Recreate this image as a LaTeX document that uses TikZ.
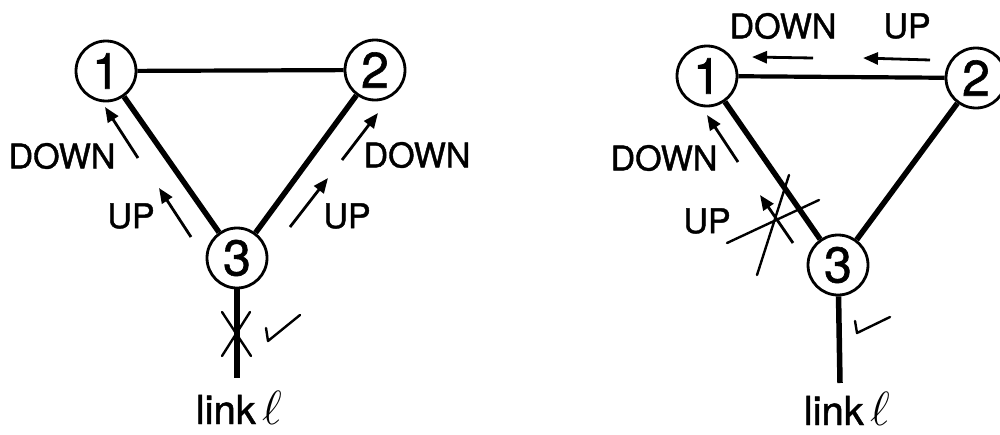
\RequirePackage{fix-cm}
\documentclass[tikz,border=0pt]{standalone}
\usepackage{fontspec}
\setmainfont{TeX Gyre Heros}
\newfontfamily\heavysans{TeX Gyre Heros}[FakeBold=1.2]
\usetikzlibrary{arrows.meta}
\begin{document}
\begin{tikzpicture}[x=1pt,y=-1pt,
  station/.style={circle,draw,line width=2.8pt,minimum size=60pt,inner sep=0pt,
    font=\heavysans\fontsize{50}{56}\selectfont},
  trunk/.style={line width=5.5pt},
  toplink/.style={line width=4.2pt},
  msg/.style={line width=2.8pt,-{Triangle[length=15pt,width=12pt]}},
  thin/.style={line width=2.4pt,line cap=round},
  lbl/.style={font=\heavysans\fontsize{34}{40}\selectfont,inner sep=0pt},
  linklbl/.style={font=\heavysans\fontsize{40}{46}\selectfont,inner sep=0pt,anchor=base}]
\useasboundingbox (0,0) rectangle (1000,434);
\clip (0,0) rectangle (1000,434);

% ---- left network ----
\node[station] (a1) at (106,71) {1};
\node[station] (a2) at (375,70) {2};
\node[station] (a3) at (237,258) {3};
\coordinate (aend) at (237,378);
\draw[toplink] (a1) -- (a2);
\draw[trunk] (a1) -- (a3);
\draw[trunk] (a2) -- (a3);
\draw[trunk] (a3) -- (aend);
% cut mark on the access link
\coordinate (ax1) at (222,312); \coordinate (ax2) at (251,356);
\coordinate (ax3) at (250,312); \coordinate (ax4) at (222,356);
\draw[thin] (ax1) -- (ax2);
\draw[thin] (ax3) -- (ax4);
% tick
\coordinate (ac1) at (266,328); \coordinate (ac2) at (268,341); \coordinate (ac3) at (300,315);
\draw[thin,line join=round] (ac1) -- (ac2) -- (ac3);
\node[linklbl] (alink) at (239,424) {link\,{\fontsize{48}{54}\selectfont$\ell$}};
% messages
\coordinate (ad1s) at (138,158); \coordinate (ad1e) at (105,107);
\coordinate (au1s) at (191,237); \coordinate (au1e) at (159,188);
\coordinate (ad2s) at (342,160); \coordinate (ad2e) at (378,113);
\coordinate (au2s) at (290,227); \coordinate (au2e) at (328,178);
\draw[msg] (ad1s) -- (ad1e);
\draw[msg] (au1s) -- (au1e);
\draw[msg] (ad2s) -- (ad2e);
\draw[msg] (au2s) -- (au2e);
\node[lbl] (adl) at (62,156) {DOWN};
\node[lbl] (aul) at (131,216) {UP};
\node[lbl] (adr) at (417,155) {DOWN};
\node[lbl] (aur) at (347,216) {UP};

% ---- right network ----
\node[station] (b1) at (707,76) {1};
\node[station] (b2) at (976,78) {2};
\node[station] (b3) at (838,265) {3};
\coordinate (bend) at (840,383);
\draw[toplink] (b1) -- (b2);
\draw[trunk] (b1) -- (b3);
\draw[trunk] (b2) -- (b3);
\draw[trunk] (b3) -- (bend);
% tick
\coordinate (bc1) at (855,321); \coordinate (bc2) at (857,333); \coordinate (bc3) at (890,317);
\draw[thin,line join=round] (bc1) -- (bc2) -- (bc3);
\node[linklbl] (blink) at (847,425) {link\,{\fontsize{48}{54}\selectfont$\ell$}};
% messages along 2 -> 1
\coordinate (bt1s) at (813,58); \coordinate (bt1e) at (752,57);
\coordinate (bt2s) at (930,60); \coordinate (bt2e) at (863,58);
\draw[msg] (bt1s) -- (bt1e);
\draw[msg] (bt2s) -- (bt2e);
\node[lbl] (btd) at (783,26) {DOWN};
\node[lbl] (btu) at (907,26) {UP};
% messages along 3 -> 1
\coordinate (bd1s) at (738,162); \coordinate (bd1e) at (707,115);
\coordinate (bu1s) at (793,243); \coordinate (bu1e) at (760,195);
\draw[msg] (bd1s) -- (bd1e);
\draw[msg] (bu1s) -- (bu1e);
\node[lbl] (bdl) at (664,158) {DOWN};
\node[lbl] (bul) at (707,221) {UP};
% cut mark over the UP message
\coordinate (bx1) at (727,243); \coordinate (bx2) at (819,200);
\coordinate (bx3) at (757,275); \coordinate (bx4) at (789,175);
\draw[thin] (bx1) -- (bx2);
\draw[thin] (bx3) -- (bx4);
\end{tikzpicture}
\end{document}
